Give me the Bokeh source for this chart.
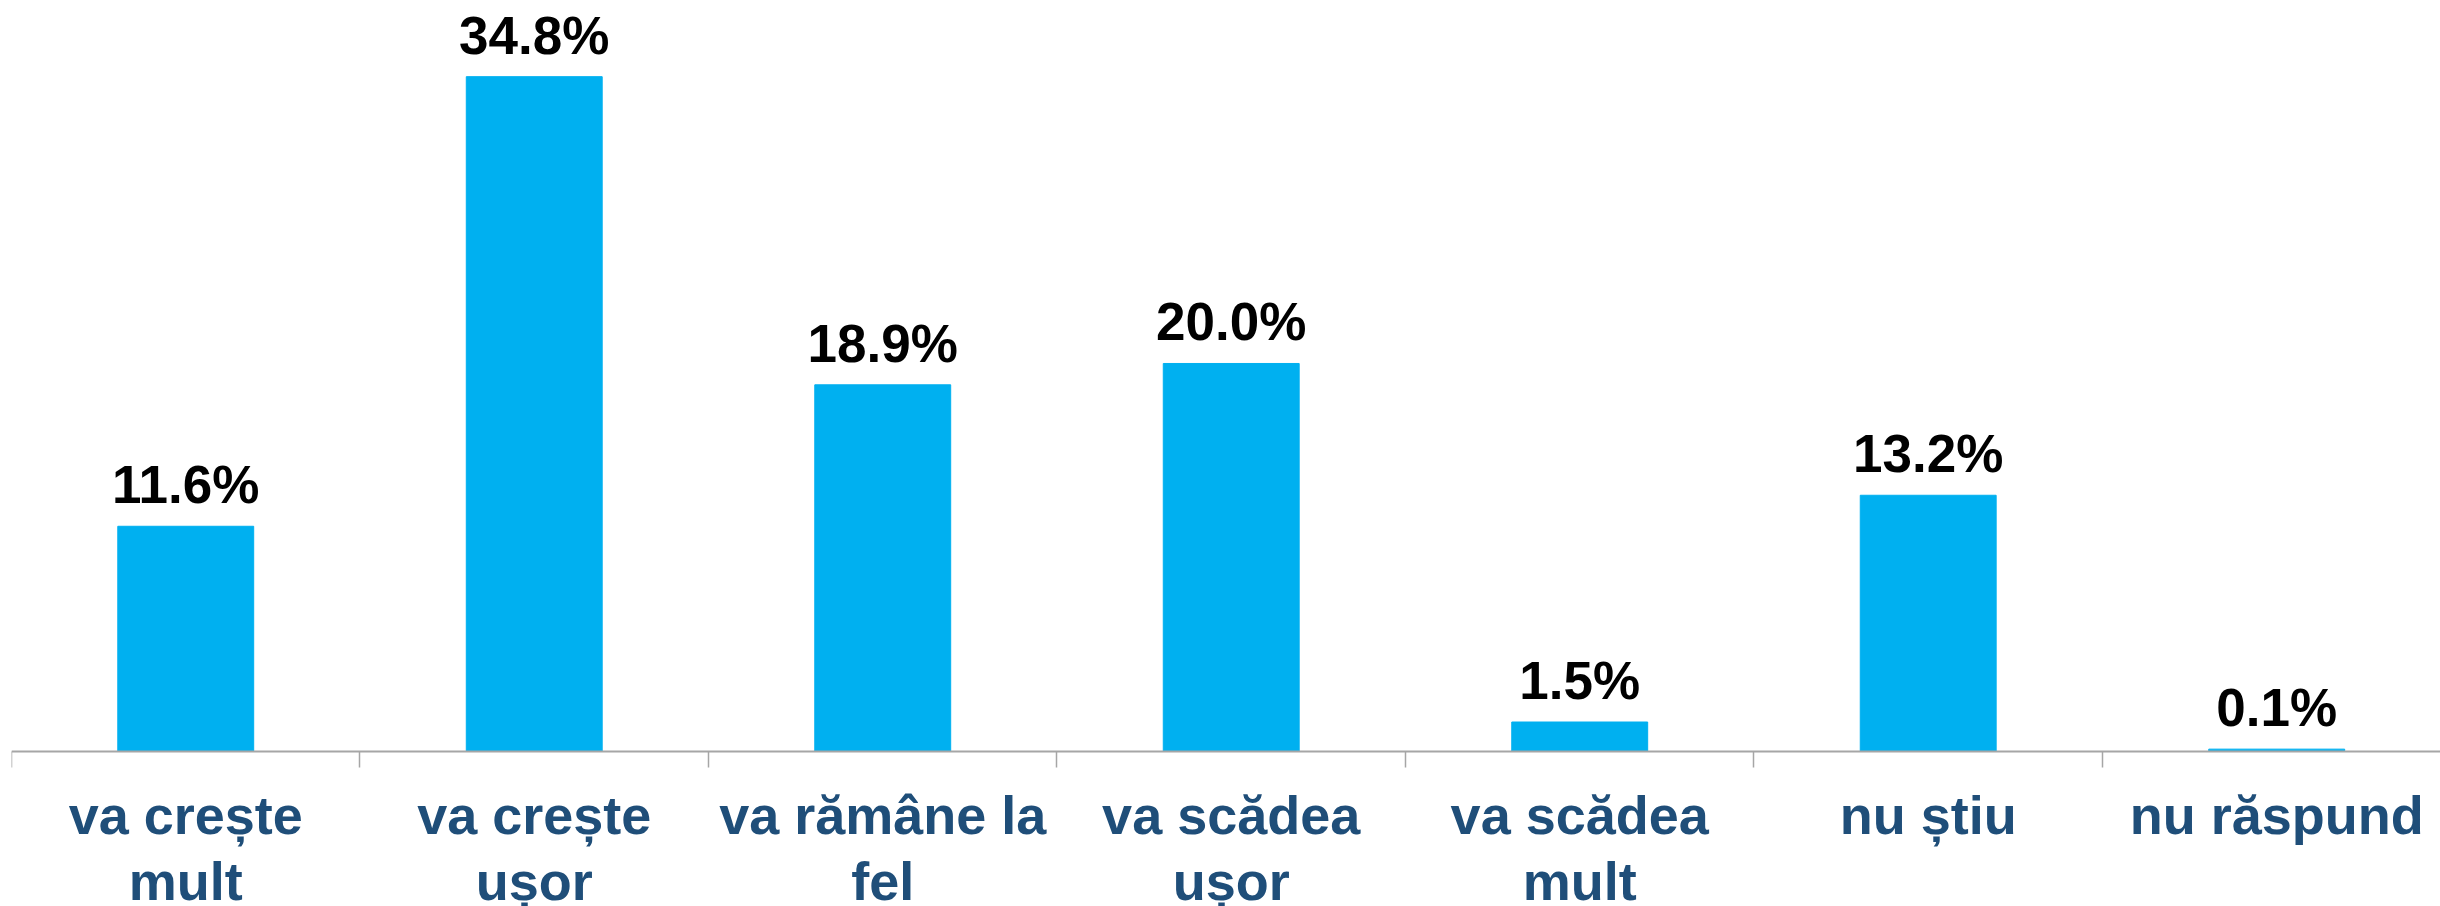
from bokeh.plotting import figure
from bokeh.models import Range1d, FixedTicker, ColumnDataSource, LabelSet
from bokeh.embed import file_html
from bokeh.resources import INLINE
from bokeh.core.properties import value

categories = ["va crește\nmult", "va crește\nușor", "va rămâne la\nfel",
              "va scădea\nușor", "va scădea\nmult", "nu știu", "nu răspund"]
values = [11.6, 34.8, 18.9, 20.0, 1.5, 13.2, 0.1]

idx = list(range(len(categories)))
labels = [f"{v:.1f}%" for v in values]

src = ColumnDataSource(dict(x=idx, top=values, label=labels))

W, H = 2440, 906
p = figure(width=W, height=H, output_backend="svg", toolbar_location=None,
           title=None,
           x_range=Range1d(-0.5, 6.470), y_range=Range1d(-8.02, 38.73),
           min_border_left=11, min_border_right=0, min_border_top=0,
           min_border_bottom=0)

p.vbar(x="x", top="top", width=0.39, source=src, color="#00B0F0")

lbl = LabelSet(x="x", y="top", text="label", source=src, text_align="center",
               text_baseline="alphabetic", y_offset=23,
               text_font=value("Liberation Sans"), text_font_style="bold",
               text_font_size=value("53px"), text_color="black")
p.add_layout(lbl)

p.yaxis.visible = False
p.xgrid.visible = False
p.ygrid.visible = False
p.outline_line_color = None

ax = p.xaxis[0]
ax.fixed_location = 0
ax.ticker = FixedTicker(ticks=idx, minor_ticks=[i - 0.5 for i in range(len(idx) + 1)])
ax.major_label_overrides = {i: c for i, c in zip(idx, categories)}
ax.major_tick_line_color = None
ax.major_tick_out = 0
ax.major_tick_in = 0
ax.minor_tick_in = 0
ax.minor_tick_out = 16
ax.minor_tick_line_color = "#A6A6A6"
ax.minor_tick_line_width = 1.5
ax.axis_line_color = "#A6A6A6"
ax.axis_line_width = 2
ax.major_label_text_font = "Liberation Sans"
ax.major_label_text_font_style = "bold"
ax.major_label_text_font_size = "54px"
ax.major_label_text_color = "#1F4E79"
ax.major_label_standoff = 18
ax.major_label_text_line_height = 1.1

open("out.html", "w").write(file_html(p, INLINE))
